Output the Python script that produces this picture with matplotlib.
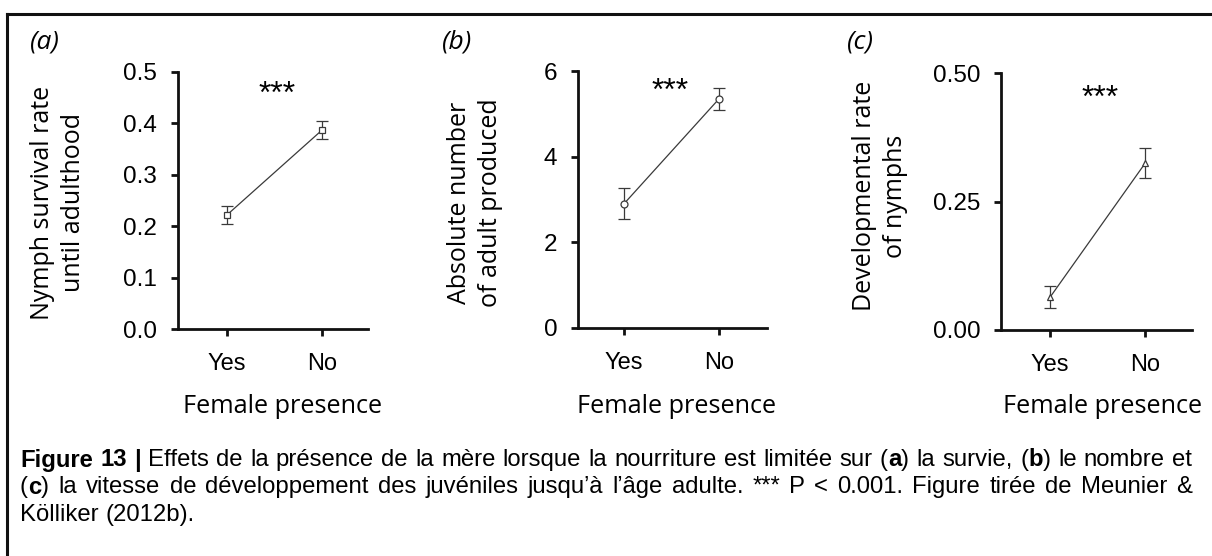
import matplotlib
matplotlib.use("Agg")
import matplotlib.pyplot as plt
from matplotlib import font_manager
from matplotlib.lines import Line2D

# data (mean and SE)
groups = ["Yes", "No"]
survival = [0.222, 0.387]
survival_se = [0.017, 0.018]
adults = [2.90, 5.35]
adults_se = [0.36, 0.26]
dev_rate = [0.064, 0.325]
dev_rate_se = [0.021, 0.029]

panel_tags = ["(a)", "(b)", "(c)"]
ylabels = ["Nymph survival rate\nuntil adulthood",
           "Absolute number\nof adult produced",
           "Developmental rate\nof nymphs"]
yticks = [[0.0, 0.1, 0.2, 0.3, 0.4, 0.5], [0, 2, 4, 6], [0.0, 0.25, 0.5]]
ytick_fmt = ["{:.1f}", "{:.0f}", "{:.2f}"]
markers = ["s", "o", "^"]
xlabel = "Female presence"
signif = "***"

# "^" toggles bold in the caption
caption_lines = [
    "^Figure 13 |^ Effets de la présence de la mère lorsque la nourriture est limitée sur (^a^) la survie, (^b^) le nombre et",
    "(^c^) la vitesse de développement des juvéniles jusqu’à l’âge adulte. *** P < 0.001. Figure tirée de Meunier &",
    "Kölliker (2012b).",
]

W, H = 1212, 556
tick_font = "Liberation Sans"
label_font = "Open Sans"
try:
    font_manager.findfont("Liberation Sans Narrow", fallback_to_default=False)
    cap_font = "Liberation Sans Narrow"
except Exception:
    cap_font = "Liberation Sans"

fig = plt.figure(figsize=(W / 100, H / 100), dpi=100)

# axes boxes in pixels: left, right, top, bottom
boxes = [(178, 368, 72, 329), (578, 767, 71, 328), (1001, 1192, 73, 330)]
xlims = [(0.484, 2.484), (0.516, 2.505), (0.484, 2.49)]
ylabel_pos = [(58, 203), (475, 203), (880, 196)]
tag_x = [45, 457, 860]
star_pos = [(277, 95), (670, 92), (1100, 99)]
xlabel_x = [283, 677, 1103]

means = [survival, adults, dev_rate]
errs = [survival_se, adults_se, dev_rate_se]

for i in range(3):
    l, r, t, b = boxes[i]
    ax = fig.add_axes([l / W, 1 - b / H, (r - l) / W, (b - t) / H])
    x = [1, 2]
    ax.errorbar(x, means[i], yerr=errs[i], color="#3a3a3a", lw=0.9,
                elinewidth=0.9, capsize=4, capthick=0.9, marker=markers[i],
                markersize=5, mfc="white", mec="#3a3a3a", mew=0.9)
    ax.set_xlim(*xlims[i])
    ax.set_ylim(yticks[i][0], yticks[i][-1])
    ax.set_xticks(x)
    ax.set_xticklabels(groups, fontsize=17, family=tick_font)
    ax.set_yticks(yticks[i])
    ax.set_yticklabels([ytick_fmt[i].format(v) for v in yticks[i]],
                       fontsize=17.5, family=tick_font)
    ax.tick_params(axis="both", direction="out", length=5, width=2, color="#111")
    ax.tick_params(axis="y", pad=10)
    ax.tick_params(axis="x", pad=12)
    for s in ["top", "right"]:
        ax.spines[s].set_visible(False)
    for s in ["left", "bottom"]:
        ax.spines[s].set_linewidth(2)
        ax.spines[s].set_color("#111")
    ax.patch.set_alpha(0)

    fig.text(ylabel_pos[i][0] / W, 1 - ylabel_pos[i][1] / H, ylabels[i],
             rotation=90, ha="center", va="center", ma="center", fontsize=18,
             family=label_font, linespacing=1.35)
    fig.text(tag_x[i] / W, 1 - 42 / H, panel_tags[i], ha="center", va="center",
             fontsize=19, family=label_font, style="italic")
    fig.text(star_pos[i][0] / W, 1 - star_pos[i][1] / H, signif, ha="center",
             va="center", fontsize=23, family=tick_font)
    fig.text(xlabel_x[i] / W, 1 - 413 / H, xlabel, ha="center",
             va="baseline", fontsize=18.2, family=label_font)

# frame lines of the figure box (top and left)
fig.add_artist(Line2D([7 / W, 1], [1 - 14 / H, 1 - 14 / H], color="#111", lw=2.2))
fig.add_artist(Line2D([7 / W, 7 / W], [0, 1 - 14 / H], color="#111", lw=2.2))

# caption, justified like the source document
renderer = fig.canvas.get_renderer()


def seg_width(text, bold, size):
    w = "bold" if bold else "normal"
    t1 = fig.text(0, 0, "l" + text + "l", fontsize=size, family=cap_font, weight=w)
    t2 = fig.text(0, 0, "ll", fontsize=size, family=cap_font, weight=w)
    width = t1.get_window_extent(renderer).width - t2.get_window_extent(renderer).width
    t1.remove()
    t2.remove()
    return width


def split_words(line, bold):
    words = []
    for word in line.split(" "):
        parts = word.split("^")
        segs = []
        for k, p in enumerate(parts):
            if k > 0:
                bold = not bold
            if p:
                segs.append((p, bold))
        words.append(segs)
    return words, bold


cap_left, cap_right = 20, 1192
line_y = [460, 487, 515]

# pick the caption size so that the first line fills the width naturally
first, _ = split_words(caption_lines[0], False)
ref_size = 10
nat = sum(seg_width(p, bb, ref_size) for w in first for p, bb in w)
nat += (len(first) - 1) * seg_width(" ", False, ref_size)
cap_size = ref_size * (cap_right - cap_left - 8) / nat

bold = False
for li, line in enumerate(caption_lines):
    words, bold = split_words(line, bold)
    widths = [[seg_width(p, bb, cap_size) for p, bb in w] for w in words]
    total = sum(sum(w) for w in widths)
    if li < len(caption_lines) - 1 and len(words) > 1:
        gap = (cap_right - cap_left - total) / (len(words) - 1)
    else:
        gap = seg_width(" ", False, cap_size)
    xpos = cap_left
    for w, ws in zip(words, widths):
        for (p, bb), pw in zip(w, ws):
            fig.text(xpos / W, 1 - line_y[li] / H, p, ha="left", va="center",
                     fontsize=cap_size, family=cap_font,
                     weight="bold" if bb else "normal")
            xpos += pw
        xpos += gap

fig.savefig("out.png", dpi=100)
